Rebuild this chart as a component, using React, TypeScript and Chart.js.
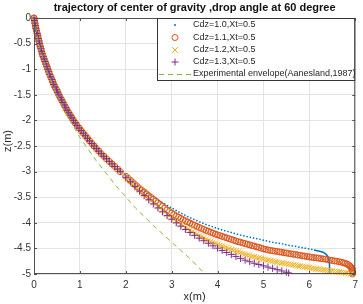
import React, { useEffect, useRef } from 'react';
import { Chart, registerables } from 'chart.js';

Chart.register(...registerables);

const titleText = 'trajectory of center of gravity ,drop angle at 60 degree';
const xAxisLabel = 'x(m)';
const yAxisLabel = 'z(m)';
const seriesNames = [
  'Cdz=1.0,Xt=0.5',
  'Cdz=1.1,Xt=0.5',
  'Cdz=1.2,Xt=0.5',
  'Cdz=1.3,Xt=0.5',
  'Experimental envelope(Aanesland,1987)',
];

const xTickValues = [0, 1, 2, 3, 4, 5, 6, 7];
const xTickLabels = ['0', '1', '2', '3', '4', '5', '6', '7'];
const yTickValues = [0, -0.5, -1, -1.5, -2, -2.5, -3, -3.5, -4, -4.5, -5];
const yTickLabels = ['0', '-0.5', '-1', '-1.5', '-2', '-2.5', '-3', '-3.5', '-4', '-4.5', '-5'];

// shared upper part of all four simulated trajectories
const trunkX = [0, 0.01, 0.02, 0.03, 0.04, 0.055, 0.07, 0.083, 0.095, 0.108, 0.12, 0.135, 0.15, 0.165, 0.18, 0.2, 0.22, 0.24, 0.26, 0.28, 0.30, 0.32, 0.34, 0.365, 0.39, 0.41, 0.43, 0.46, 0.49, 0.515, 0.54, 0.57, 0.60, 0.63, 0.66, 0.69, 0.72, 0.755, 0.79, 0.825, 0.86, 0.90, 0.94, 0.985, 1.03, 1.075, 1.12, 1.165, 1.21, 1.26, 1.31, 1.36, 1.41, 1.465, 1.52, 1.58, 1.64, 1.70, 1.76, 1.82, 1.88];
const trunkZ = [0, -0.05, -0.1, -0.15, -0.2, -0.25, -0.3, -0.35, -0.4, -0.45, -0.5, -0.55, -0.6, -0.65, -0.7, -0.75, -0.8, -0.85, -0.9, -0.95, -1.0, -1.05, -1.1, -1.15, -1.2, -1.25, -1.3, -1.35, -1.4, -1.45, -1.5, -1.55, -1.6, -1.65, -1.7, -1.75, -1.8, -1.85, -1.9, -1.95, -2.0, -2.05, -2.1, -2.15, -2.2, -2.25, -2.3, -2.35, -2.4, -2.45, -2.5, -2.55, -2.6, -2.65, -2.7, -2.75, -2.8, -2.85, -2.9, -2.95, -3.0];

// Cdz=1.0
const cdz10X = [2.0, 2.1, 2.2, 2.3, 2.4, 2.5, 2.6, 2.7, 2.8, 2.9, 3.0, 3.1, 3.2, 3.3, 3.4, 3.5, 3.6, 3.7, 3.8, 3.9, 4.0, 4.1, 4.2, 4.3, 4.4, 4.5, 4.6, 4.7, 4.8, 4.9, 5.0, 5.1, 5.2, 5.3, 5.4, 5.5, 5.6, 5.7, 5.8, 5.9, 6.0, 6.1, 6.2, 6.3, 6.36, 6.4, 6.42, 6.43, 6.44, 6.44, 6.44, 6.44];
const cdz10Z = [-3.09, -3.16, -3.23, -3.30, -3.365, -3.43, -3.49, -3.55, -3.605, -3.66, -3.71, -3.76, -3.81, -3.855, -3.90, -3.94, -3.98, -4.015, -4.05, -4.08, -4.11, -4.14, -4.165, -4.19, -4.215, -4.24, -4.26, -4.28, -4.30, -4.32, -4.34, -4.36, -4.38, -4.395, -4.41, -4.43, -4.445, -4.46, -4.48, -4.495, -4.51, -4.53, -4.55, -4.575, -4.61, -4.65, -4.70, -4.76, -4.82, -4.88, -4.94, -5.0];

// Cdz=1.1
const cdz11X = [2.0, 2.05, 2.1, 2.15, 2.2, 2.25, 2.3, 2.35, 2.4, 2.45, 2.5, 2.55, 2.6, 2.65, 2.7, 2.75, 2.8, 2.85, 2.9, 2.95, 3.0, 3.05, 3.1, 3.15, 3.2, 3.25, 3.3, 3.35, 3.4, 3.45, 3.5, 3.55, 3.6, 3.65, 3.7, 3.75, 3.8, 3.85, 3.9, 3.95, 4.0, 4.05, 4.1, 4.15, 4.2, 4.25, 4.3, 4.35, 4.4, 4.45, 4.5, 4.55, 4.6, 4.65, 4.7, 4.75, 4.8, 4.85, 4.9, 4.95, 5.0, 5.05, 5.1, 5.15, 5.2, 5.25, 5.3, 5.35, 5.4, 5.45, 5.5, 5.55, 5.6, 5.65, 5.7, 5.75, 5.8, 5.85, 5.9, 5.95, 6.0, 6.05, 6.1, 6.15, 6.2, 6.25, 6.3, 6.35, 6.4, 6.45, 6.5, 6.55, 6.6, 6.65, 6.7, 6.74, 6.78, 6.82, 6.85, 6.88, 6.9, 6.92, 6.93, 6.94, 6.94, 6.945, 6.94];
const cdz11Z = [-3.09, -3.13, -3.17, -3.21, -3.25, -3.29, -3.33, -3.365, -3.40, -3.435, -3.47, -3.505, -3.54, -3.575, -3.61, -3.645, -3.68, -3.715, -3.75, -3.78, -3.81, -3.84, -3.865, -3.89, -3.915, -3.94, -3.96, -3.985, -4.005, -4.03, -4.05, -4.07, -4.09, -4.11, -4.13, -4.15, -4.165, -4.185, -4.20, -4.22, -4.235, -4.25, -4.265, -4.28, -4.295, -4.31, -4.325, -4.34, -4.355, -4.37, -4.38, -4.395, -4.405, -4.42, -4.43, -4.445, -4.455, -4.47, -4.48, -4.495, -4.51, -4.52, -4.53, -4.54, -4.545, -4.555, -4.56, -4.57, -4.575, -4.585, -4.59, -4.60, -4.605, -4.615, -4.62, -4.63, -4.635, -4.645, -4.65, -4.66, -4.665, -4.675, -4.68, -4.685, -4.69, -4.70, -4.705, -4.71, -4.72, -4.73, -4.735, -4.745, -4.75, -4.76, -4.77, -4.78, -4.79, -4.805, -4.82, -4.84, -4.86, -4.88, -4.90, -4.925, -4.95, -4.975, -5.0];

// Cdz=1.2
const cdz12X = [2.0, 2.05, 2.1, 2.15, 2.2, 2.25, 2.3, 2.35, 2.4, 2.45, 2.5, 2.55, 2.6, 2.65, 2.7, 2.75, 2.8, 2.85, 2.9, 2.95, 3.0, 3.05, 3.1, 3.15, 3.2, 3.25, 3.3, 3.35, 3.4, 3.45, 3.5, 3.55, 3.6, 3.65, 3.7, 3.75, 3.8, 3.85, 3.9, 3.95, 4.0, 4.05, 4.1, 4.15, 4.2, 4.25, 4.3, 4.35, 4.4, 4.45, 4.5, 4.55, 4.6, 4.65, 4.7, 4.75, 4.8, 4.85, 4.9, 4.95, 5.0, 5.05, 5.1, 5.15, 5.2, 5.25, 5.3, 5.35, 5.4, 5.45, 5.5, 5.55, 5.6, 5.65, 5.7, 5.75, 5.8, 5.85, 5.9, 5.95, 6.0, 6.05, 6.1, 6.15, 6.2, 6.25, 6.3, 6.35, 6.4, 6.45, 6.5, 6.55, 6.6, 6.65, 6.7, 6.75, 6.8, 6.85, 6.9];
const cdz12Z = [-3.10, -3.145, -3.19, -3.235, -3.275, -3.32, -3.36, -3.405, -3.445, -3.485, -3.525, -3.565, -3.605, -3.645, -3.68, -3.715, -3.75, -3.79, -3.83, -3.865, -3.90, -3.935, -3.965, -4.0, -4.03, -4.06, -4.09, -4.12, -4.145, -4.175, -4.20, -4.225, -4.25, -4.275, -4.295, -4.32, -4.34, -4.36, -4.38, -4.40, -4.42, -4.44, -4.455, -4.475, -4.49, -4.51, -4.525, -4.54, -4.555, -4.57, -4.585, -4.60, -4.615, -4.63, -4.64, -4.655, -4.665, -4.68, -4.69, -4.70, -4.71, -4.72, -4.73, -4.74, -4.75, -4.76, -4.77, -4.78, -4.785, -4.795, -4.80, -4.81, -4.815, -4.825, -4.83, -4.84, -4.845, -4.855, -4.86, -4.87, -4.875, -4.885, -4.89, -4.90, -4.905, -4.91, -4.915, -4.925, -4.93, -4.935, -4.94, -4.95, -4.955, -4.96, -4.965, -4.975, -4.98, -4.99, -4.995];

// Cdz=1.3
const cdz13X = [2.0, 2.1, 2.2, 2.3, 2.4, 2.5, 2.6, 2.7, 2.8, 2.9, 3.0, 3.1, 3.2, 3.3, 3.4, 3.5, 3.6, 3.7, 3.8, 3.9, 4.0, 4.1, 4.2, 4.3, 4.4, 4.5, 4.6, 4.7, 4.8, 4.9, 5.0, 5.1, 5.2, 5.3, 5.4, 5.5, 5.55];
const cdz13Z = [-3.11, -3.20, -3.29, -3.38, -3.465, -3.55, -3.63, -3.71, -3.785, -3.86, -3.93, -4.0, -4.065, -4.13, -4.19, -4.245, -4.30, -4.35, -4.40, -4.45, -4.495, -4.54, -4.58, -4.62, -4.66, -4.695, -4.73, -4.76, -4.79, -4.815, -4.84, -4.865, -4.89, -4.915, -4.94, -4.965, -4.98];

// Experimental envelope (Aanesland, 1987)
const envelopeX = [0, 0.1, 0.27, 0.5, 0.66, 0.78, 1.0, 1.35, 1.79, 2.22, 2.6, 3.0, 3.4, 3.73];
const envelopeZ = [0, -0.5, -1.0, -1.5, -1.8, -2.0, -2.33, -2.78, -3.28, -3.72, -4.05, -4.38, -4.7, -5.0];

const colors = ['#0072BD', '#D95319', '#EDB120', '#7E2F8E', '#86b545'];
const FONT = "'Liberation Sans', Arial, sans-serif";

function zip(xs: number[], zs: number[]) {
  return xs.map((x, i) => ({ x, y: zs[i] }));
}

function drawMarker(ctx: CanvasRenderingContext2D, kind: number, cx: number, cy: number) {
  ctx.save();
  ctx.strokeStyle = colors[kind];
  ctx.fillStyle = colors[kind];
  ctx.lineWidth = 1;
  ctx.beginPath();
  if (kind === 0) {
    ctx.arc(cx, cy, 1, 0, Math.PI * 2);
    ctx.fill();
  } else if (kind === 1) {
    ctx.arc(cx, cy, 3, 0, Math.PI * 2);
    ctx.stroke();
  } else if (kind === 2) {
    ctx.moveTo(cx - 2.8, cy - 2.8); ctx.lineTo(cx + 2.8, cy + 2.8);
    ctx.moveTo(cx - 2.8, cy + 2.8); ctx.lineTo(cx + 2.8, cy - 2.8);
    ctx.stroke();
  } else if (kind === 3) {
    ctx.moveTo(cx - 3.5, cy); ctx.lineTo(cx + 3.5, cy);
    ctx.moveTo(cx, cy - 3.5); ctx.lineTo(cx, cy + 3.5);
    ctx.stroke();
  }
  ctx.restore();
}

const framePlugin = {
  id: 'matlabFrame',
  afterDatasetsDraw(chart: any) {
    const { ctx, chartArea: a, scales } = chart;
    ctx.save();
    ctx.strokeStyle = '#505050';
    ctx.lineWidth = 1;
    ctx.strokeRect(a.left + 0.5, a.top + 0.5, a.right - a.left - 1, a.bottom - a.top - 1);
    ctx.beginPath();
    for (const v of xTickValues) {
      const px = Math.round(scales.x.getPixelForValue(v)) + 0.5;
      ctx.moveTo(px, a.bottom); ctx.lineTo(px, a.bottom - 3);
      ctx.moveTo(px, a.top); ctx.lineTo(px, a.top + 3);
    }
    for (const v of yTickValues) {
      const py = Math.round(scales.y.getPixelForValue(v)) + 0.5;
      ctx.moveTo(a.left, py); ctx.lineTo(a.left + 3, py);
      ctx.moveTo(a.right, py); ctx.lineTo(a.right - 3, py);
    }
    ctx.stroke();
    ctx.restore();
  },
  afterDraw(chart: any) {
    const { ctx, chartArea: a } = chart;
    const midX = (a.left + a.right) / 2;
    ctx.save();
    ctx.fillStyle = '#111';
    ctx.font = `bold 11px ${FONT}`;
    ctx.textAlign = 'center';
    ctx.textBaseline = 'middle';
    ctx.fillText(titleText, midX, 8);
    ctx.fillStyle = '#262626';
    ctx.font = `11px ${FONT}`;
    ctx.fillText(xAxisLabel, midX, 297);
    ctx.save();
    ctx.translate(8, 141);
    ctx.rotate(-Math.PI / 2);
    ctx.fillText(yAxisLabel, 0, 0);
    ctx.restore();
    // legend
    const left = 157.5;
    const top = a.top + 0.5;
    const right = a.right - 0.5;
    const bottom = 80.5;
    ctx.fillStyle = '#ffffff';
    ctx.fillRect(left, top, right - left, bottom - top);
    ctx.strokeStyle = '#333';
    ctx.lineWidth = 1;
    ctx.strokeRect(left, top, right - left, bottom - top);
    ctx.font = `9px ${FONT}`;
    ctx.textAlign = 'left';
    ctx.textBaseline = 'middle';
    const rowY = [25, 37.5, 50, 62, 74];
    seriesNames.forEach((name, i) => {
      const y = rowY[i];
      if (i < 4) {
        drawMarker(ctx, i, 175, y);
      } else {
        ctx.save();
        ctx.strokeStyle = colors[4];
        ctx.lineWidth = 1;
        ctx.setLineDash([5, 4]);
        ctx.beginPath();
        ctx.moveTo(159, y + 0.5);
        ctx.lineTo(191, y + 0.5);
        ctx.stroke();
        ctx.restore();
      }
      ctx.fillStyle = '#262626';
      ctx.fillText(name, 193, y);
    });
    ctx.restore();
  },
};

export default function App() {
  const canvasRef = useRef<HTMLCanvasElement | null>(null);

  useEffect(() => {
    const canvas = canvasRef.current;
    if (!canvas) return;
    const tickFont = { family: FONT, size: 10 };
    const chart = new Chart(canvas, {
      type: 'scatter',
      data: {
        datasets: [
          {
            label: seriesNames[0],
            data: zip([...trunkX, ...cdz10X], [...trunkZ, ...cdz10Z]),
            showLine: true,
            borderColor: colors[0],
            borderWidth: 1.5,
            borderDash: [1.5, 1.8],
            segment: {
              borderDash: (c: any) => (c.p0.parsed.x >= 6.1 ? [] : [1.5, 1.8]),
            },
            pointRadius: 0,
            order: 5,
            clip: false,
          },
          {
            label: seriesNames[1],
            data: zip([...trunkX, ...cdz11X], [...trunkZ, ...cdz11Z]),
            showLine: false,
            pointStyle: 'circle',
            pointRadius: 3,
            pointBorderWidth: 1,
            borderColor: colors[1],
            backgroundColor: 'rgba(0,0,0,0)',
            order: 4,
            clip: false,
          },
          {
            label: seriesNames[2],
            data: zip([...trunkX, ...cdz12X], [...trunkZ, ...cdz12Z]),
            showLine: false,
            pointStyle: 'crossRot',
            pointRadius: 4,
            pointBorderWidth: 1,
            borderColor: colors[2],
            backgroundColor: colors[2],
            order: 3,
            clip: false,
          },
          {
            label: seriesNames[3],
            data: zip([...trunkX, ...cdz13X], [...trunkZ, ...cdz13Z]),
            showLine: false,
            pointStyle: 'cross',
            pointRadius: 3.5,
            pointBorderWidth: 1,
            borderColor: colors[3],
            backgroundColor: colors[3],
            order: 2,
            clip: false,
          },
          {
            label: seriesNames[4],
            data: zip(envelopeX, envelopeZ),
            showLine: true,
            borderColor: colors[4],
            borderWidth: 1,
            borderDash: [5, 4],
            pointRadius: 0,
            order: 1,
          },
        ],
      },
      options: {
        animation: false,
        responsive: false,
        maintainAspectRatio: false,
        events: [],
        layout: { padding: { top: 18, right: 5, left: 0, bottom: 0 } },
        plugins: {
          legend: { display: false },
          title: { display: false },
          tooltip: { enabled: false },
        },
        scales: {
          x: {
            type: 'linear',
            min: 0,
            max: 7,
            afterFit: (s: any) => { s.height = 30; },
            afterBuildTicks: (s: any) => { s.ticks = xTickValues.map((v) => ({ value: v })); },
            ticks: {
              font: tickFont,
              color: '#333',
              padding: 5,
              maxRotation: 0,
              autoSkip: false,
              callback: (v: any) => {
                const i = xTickValues.findIndex((t) => Math.abs(t - Number(v)) < 1e-6);
                return i >= 0 ? xTickLabels[i] : '';
              },
            },
            grid: { color: '#e3e3e3', drawTicks: false },
            border: { display: false },
          },
          y: {
            type: 'linear',
            min: -5,
            max: 0,
            afterFit: (s: any) => { s.width = 34; },
            afterBuildTicks: (s: any) => { s.ticks = yTickValues.map((v) => ({ value: v })); },
            ticks: {
              font: tickFont,
              color: '#333',
              padding: 3,
              autoSkip: false,
              callback: (v: any) => {
                const i = yTickValues.findIndex((t) => Math.abs(t - Number(v)) < 1e-6);
                return i >= 0 ? yTickLabels[i] : '';
              },
            },
            grid: { color: '#e3e3e3', drawTicks: false },
            border: { display: false },
          },
        },
      },
      plugins: [framePlugin],
    } as any);
    return () => chart.destroy();
  }, []);

  return (
    <div style={{ position: 'fixed', left: 0, top: 0, width: 363, height: 304, background: '#fff' }}>
      <canvas ref={canvasRef} width={363} height={304} style={{ width: 363, height: 304, display: 'block' }} />
    </div>
  );
}
